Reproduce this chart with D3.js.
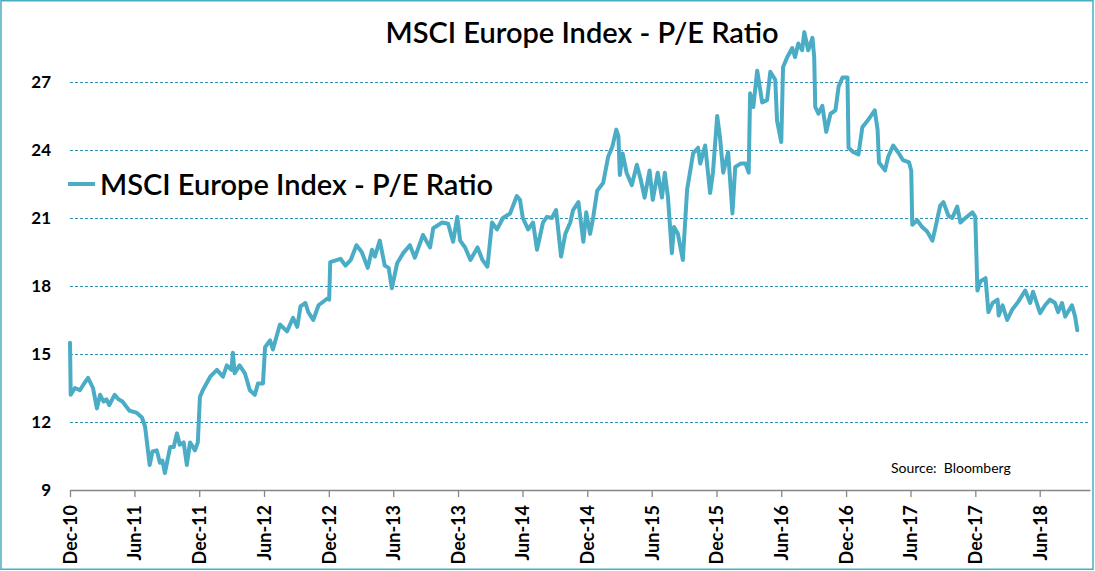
<!DOCTYPE html>
<html>
<head>
<meta charset="utf-8">
<script src="https://cdn.jsdelivr.net/npm/d3@7"></script>
<style>
  html, body { margin: 0; padding: 0; background: #fff; }
  svg { display: block; }
</style>
</head>
<body>
<script>
// ---------------- DATA ----------------
const chartTitle = "MSCI Europe Index - P/E Ratio";
const seriesName = "MSCI Europe Index - P/E Ratio";
const sourceText = "Source:  Bloomberg";
const yTickValues = [9, 12, 15, 18, 21, 24, 27];
const xTickDates = ["2010-12-01","2011-06-01","2011-12-01","2012-06-01","2012-12-01","2013-06-01",
  "2013-12-01","2014-06-01","2014-12-01","2015-06-01","2015-12-01","2016-06-01","2016-12-01",
  "2017-06-01","2017-12-01","2018-06-01"];
const dates = [
"2010-12-01","2010-12-03","2010-12-15","2010-12-29","2011-01-10","2011-01-21","2011-02-04","2011-02-15","2011-02-24","2011-03-06",
"2011-03-14","2011-03-22","2011-04-06","2011-04-17","2011-04-28","2011-05-18","2011-06-08","2011-06-22","2011-07-01","2011-07-08",
"2011-07-14","2011-07-22","2011-08-03","2011-08-12","2011-08-19","2011-08-26","2011-09-10","2011-09-20","2011-09-29","2011-10-07",
"2011-10-18","2011-10-27","2011-11-05","2011-11-19","2011-11-27","2011-12-03","2011-12-11","2012-01-01","2012-01-20","2012-02-06",
"2012-02-17","2012-03-01","2012-03-05","2012-03-10","2012-03-24","2012-04-08","2012-04-22","2012-05-06","2012-05-15","2012-05-29",
"2012-06-04","2012-06-18","2012-06-26","2012-07-16","2012-08-05","2012-08-22","2012-09-03","2012-09-12","2012-09-26","2012-10-04",
"2012-10-18","2012-11-02","2012-11-27","2012-12-02","2012-12-05","2013-01-03","2013-01-17","2013-02-01","2013-02-17","2013-03-04",
"2013-03-21","2013-04-02","2013-04-10","2013-04-24","2013-05-08","2013-05-19","2013-05-28","2013-06-12","2013-06-29","2013-07-18",
"2013-08-01","2013-08-24","2013-09-13","2013-09-22","2013-10-17","2013-11-03","2013-11-17","2013-11-29","2013-12-07","2013-12-21",
"2014-01-05","2014-01-25","2014-02-08","2014-02-22","2014-03-07","2014-03-21","2014-04-07","2014-04-27","2014-05-16","2014-05-25",
"2014-06-02","2014-06-17","2014-07-01","2014-07-12","2014-07-29","2014-08-09","2014-08-23","2014-09-04","2014-09-18","2014-09-30",
"2014-10-14","2014-10-22","2014-11-06","2014-11-20","2014-11-28","2014-12-09","2014-12-18","2014-12-29","2015-01-15","2015-01-29",
"2015-02-10","2015-02-21","2015-02-27","2015-03-03","2015-03-11","2015-03-22","2015-04-06","2015-04-20","2015-05-01","2015-05-12",
"2015-05-26","2015-06-04","2015-06-18","2015-06-30","2015-07-08","2015-07-17","2015-07-28","2015-08-03","2015-08-14","2015-08-28",
"2015-09-09","2015-09-17","2015-09-26","2015-10-10","2015-10-16","2015-10-30","2015-11-13","2015-11-21","2015-12-03","2015-12-11",
"2015-12-20","2016-01-03","2016-01-15","2016-01-23","2016-02-07","2016-02-21","2016-03-01","2016-03-05","2016-03-14","2016-03-25",
"2016-04-08","2016-04-22","2016-05-01","2016-05-15","2016-05-20","2016-06-01","2016-06-06","2016-06-18","2016-07-02","2016-07-10",
"2016-07-19","2016-07-30","2016-08-05","2016-08-16","2016-08-28","2016-09-02","2016-09-05","2016-09-14","2016-09-25","2016-10-06",
"2016-10-18","2016-11-01","2016-11-10","2016-11-21","2016-12-05","2016-12-08","2016-12-22","2017-01-05","2017-01-16","2017-01-31",
"2017-02-20","2017-02-28","2017-03-04","2017-03-21","2017-03-30","2017-04-13","2017-04-27","2017-05-11","2017-05-28","2017-06-03",
"2017-06-06","2017-06-20","2017-07-04","2017-07-18","2017-08-02","2017-08-10","2017-08-24","2017-09-02","2017-09-16","2017-09-27",
"2017-10-11","2017-10-20","2017-11-03","2017-11-23","2017-12-01","2017-12-07","2017-12-15","2017-12-30","2018-01-07","2018-01-19",
"2018-02-02","2018-02-05","2018-02-16","2018-03-01","2018-03-15","2018-04-01","2018-04-21","2018-05-05","2018-05-13","2018-06-02",
"2018-06-16","2018-06-30","2018-07-14","2018-07-23","2018-08-03","2018-08-12","2018-08-31","2018-09-09","2018-09-15"
];
const peValues = [
15.5,13.2,13.5,13.4,13.7,13.95,13.5,12.6,13.2,12.9,
13.0,12.75,13.2,13.0,12.9,12.5,12.4,12.2,11.8,10.9,
10.1,10.7,10.75,10.2,10.3,9.75,10.9,10.9,11.5,11.0,
11.1,10.1,11.1,10.75,11.1,13.1,13.4,14.0,14.3,14.0,
14.5,14.3,15.05,14.15,14.5,14.15,13.4,13.2,13.7,13.7,
15.3,15.6,15.2,16.3,16.0,16.6,16.2,17.1,17.25,16.85,
16.5,17.15,17.45,17.4,19.05,19.2,18.9,19.15,19.8,19.5,
18.8,19.6,19.3,20.0,18.9,18.8,17.9,19.0,19.45,19.8,
19.25,20.25,19.7,20.55,20.8,20.75,19.95,21.05,20.0,19.7,
19.15,19.7,19.15,18.85,20.8,20.5,21.0,21.2,21.97,21.8,
21.0,20.5,20.8,19.6,20.8,21.05,21.0,21.35,19.3,20.3,
20.8,21.35,21.7,19.95,21.25,20.3,21.05,22.2,22.55,23.7,
24.15,24.9,24.6,22.9,23.85,23.0,22.45,23.35,22.7,21.9,
23.1,21.8,23.0,21.9,23.0,21.9,19.45,20.6,20.3,19.15,
22.25,23.0,23.85,24.1,23.4,24.2,22.1,23.0,25.5,24.55,
23.0,23.9,21.2,23.25,23.4,23.4,23.0,26.5,25.9,27.5,
26.1,26.2,27.45,27.1,25.3,24.35,27.65,28.1,28.5,28.1,
28.7,28.4,29.2,28.4,28.95,28.1,25.9,25.6,25.95,24.8,
25.6,25.75,26.8,27.2,27.2,24.1,23.9,23.8,25.0,25.3,
25.75,24.9,23.45,23.1,23.7,24.2,23.9,23.55,23.45,23.1,
20.7,20.9,20.6,20.4,20.0,20.55,21.55,21.7,21.1,21.0,
21.5,20.8,21.0,21.25,21.05,17.8,18.2,18.35,16.85,17.25,
17.4,16.7,17.15,16.5,16.95,17.3,17.8,17.25,17.75,16.8,
17.15,17.4,17.25,16.85,17.25,16.65,17.15,16.65,16.05
];
const xDomain = ["2010-12-01", "2018-10-21"];
const yDomain = [9, 30];

// ---------------- CHART ----------------
const W = 1095, H = 571;
const parse = d3.timeParse("%Y-%m-%d");
const data = dates.map((d, i) => ({ date: parse(d), value: peValues[i] }));

const svg = d3.select("body").append("svg").attr("width", W).attr("height", H);
svg.append("rect").attr("x", 0).attr("y", 0).attr("width", W).attr("height", H).attr("fill", "#fff");
svg.append("rect").attr("x", 1).attr("y", 0.75).attr("width", 1092).attr("height", 568.5)
  .attr("fill", "none").attr("stroke", "#4bacc6").attr("stroke-width", 1.5);

const x = d3.scaleTime().domain(xDomain.map(parse)).range([70, 1090]);
const y = d3.scaleLinear().domain(yDomain).range([490, 14]);

const font = "Lato, 'Open Sans', sans-serif";
const lineColor = "#4bacc6";

// gridlines
svg.append("g").selectAll("line").data(yTickValues.filter(v => v !== 9)).join("line")
  .attr("x1", 70).attr("x2", 1090)
  .attr("y1", d => Math.round(y(d)) + 0.5).attr("y2", d => Math.round(y(d)) + 0.5)
  .attr("stroke", "#2f8fb3").attr("stroke-width", 1).attr("stroke-dasharray", "3,2");

// y axis labels
const yAxis = d3.axisLeft(y).tickValues(yTickValues).tickSize(0).tickPadding(0);
const yg = svg.append("g").attr("transform", "translate(51,0)").call(yAxis);
yg.select(".domain").remove();
yg.selectAll("text").attr("font-family", font).attr("font-weight", "bold")
  .attr("font-size", 17).attr("fill", "#000").attr("dy", "0.35em");

// x axis
const xAxis = d3.axisBottom(x).tickValues(xTickDates.map(parse)).tickSize(7)
  .tickFormat(d3.timeFormat("%b-%y")).tickSizeOuter(0);
const xg = svg.append("g").attr("transform", "translate(0,490)").call(xAxis);
xg.select(".domain").attr("stroke", "#868686").attr("stroke-width", 1.3);
xg.selectAll(".tick line").attr("stroke", "#868686").attr("stroke-width", 1.3);
xg.selectAll("text")
  .attr("font-family", font).attr("font-weight", "bold").attr("font-size", 18).attr("fill", "#000")
  .attr("text-anchor", "end")
  .attr("transform", "translate(0,15) rotate(-90)")
  .attr("x", 0).attr("y", 0).attr("dy", "0.36em");

// line
const line = d3.line().x(d => x(d.date)).y(d => y(d.value));
svg.append("path").datum(data).attr("d", line)
  .attr("fill", "none").attr("stroke", lineColor).attr("stroke-width", 4)
  .attr("stroke-linejoin", "round").attr("stroke-linecap", "round");

// title
svg.append("text").attr("x", 582).attr("y", 43).attr("text-anchor", "middle")
  .attr("font-family", font).attr("font-size", 29).attr("font-weight", 600).attr("fill", "#000")
  .text(chartTitle);

// legend
svg.append("line").attr("x1", 68).attr("x2", 95).attr("y1", 184).attr("y2", 184)
  .attr("stroke", lineColor).attr("stroke-width", 4);
svg.append("text").attr("x", 100).attr("y", 195)
  .attr("font-family", font).attr("font-size", 29).attr("font-weight", 600).attr("fill", "#000")
  .text(seriesName);

// source
svg.append("text").attr("x", 891).attr("y", 473)
  .attr("font-family", font).attr("font-size", 14).attr("fill", "#000")
  .attr("xml:space", "preserve").style("white-space", "pre")
  .text(sourceText);
</script>
</body>
</html>
